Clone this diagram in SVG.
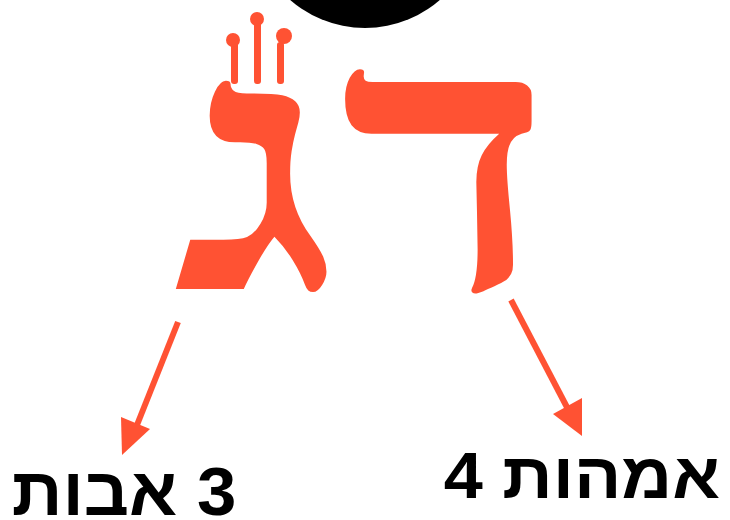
<svg xmlns="http://www.w3.org/2000/svg" width="730" height="520" viewBox="0 0 730 520">
<defs>
<style>
.letter{font-family:"Liberation Serif","DejaVu Serif",serif;font-weight:bold;fill:#FF5233;font-size:340px}
.label{font-family:"Liberation Sans","DejaVu Sans",sans-serif;font-weight:bold;fill:#000}
.conn{stroke:#FF5233;stroke-width:6;fill:none}
.head{fill:#FF5233}
</style>
</defs>
<rect width="730" height="520" fill="#fff"/>
<circle id="circle" cx="365" cy="-86" r="114" fill="#000"/>
<g id="gimel">
<text class="letter" transform="translate(256,289) scale(1.5,1.04)" text-anchor="middle">ג</text>
<g fill="#FF5233">
<rect x="231" y="42" width="7" height="42" rx="3"/>
<circle cx="233" cy="40" r="7"/>
<rect x="254" y="22" width="7" height="62" rx="3"/>
<circle cx="257" cy="19" r="7"/>
<rect x="277" y="42" width="7" height="42" rx="3"/>
<circle cx="284" cy="36" r="8"/>
</g>
</g>
<g id="dalet">
<text class="letter" transform="translate(446,289) scale(1.3,1.1)" text-anchor="middle">ד</text>
</g>
<g id="connectors">
<line class="conn" x1="178" y1="322" x2="135" y2="430"/>
<polygon class="head" points="122,455 121,417 150,429"/>
<line class="conn" x1="511" y1="300" x2="570" y2="413"/>
<polygon class="head" points="582,436 553,414 582,398"/>
</g>
<g id="label-avot">
<text class="label" transform="translate(124,515) scale(1.04,1)" font-size="68" text-anchor="middle" direction="rtl">3 אבות</text>
</g>
<g id="label-imahot">
<text class="label" transform="translate(582,498) scale(1.08,1)" font-size="65" text-anchor="middle">4 אמהות</text>
</g>
</svg>
